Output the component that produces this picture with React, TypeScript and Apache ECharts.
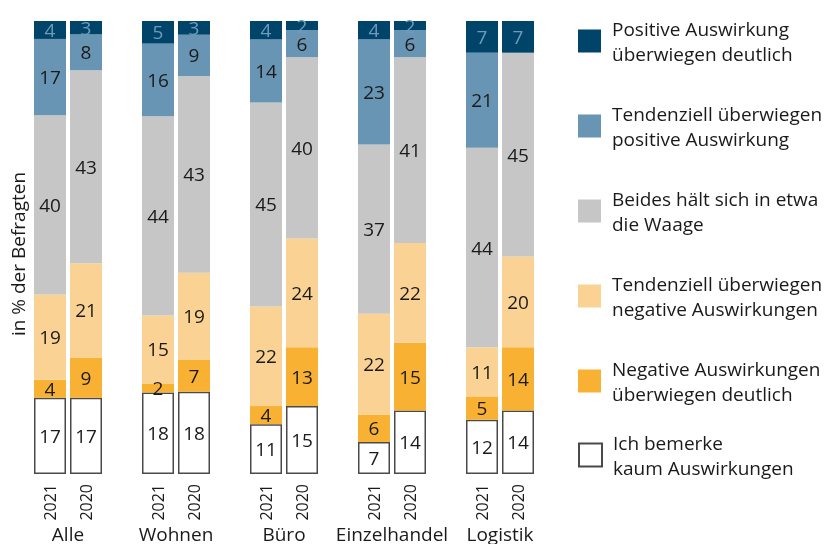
import React, { useEffect, useRef } from "react";
import * as echarts from "echarts";

const groups = ["Alle", "Wohnen", "Büro", "Einzelhandel", "Logistik"];
const years = ["2021", "2020"];

// order per bar: Alle 2021, Alle 2020, Wohnen 2021, Wohnen 2020, Büro 2021, Büro 2020, Einzelhandel 2021, Einzelhandel 2020, Logistik 2021, Logistik 2020
const kaum = [17, 17, 18, 18, 11, 15, 7, 14, 12, 14];
const negDeutlich = [4, 9, 2, 7, 4, 13, 6, 15, 5, 14];
const tendNeg = [19, 21, 15, 19, 22, 24, 22, 22, 11, 20];
const beides = [40, 43, 44, 43, 45, 40, 37, 41, 44, 45];
const tendPos = [17, 8, 16, 9, 14, 6, 23, 6, 21, null];
const posDeutlich = [4, 3, 5, 3, 4, 2, 4, 2, 7, 7];

const seriesNames = [
  "Ich bemerke\nkaum Auswirkungen",
  "Negative Auswirkungen\nüberwiegen deutlich",
  "Tendenziell überwiegen\nnegative Auswirkungen",
  "Beides hält sich in etwa\ndie Waage",
  "Tendenziell überwiegen\npositive Auswirkung",
  "Positive Auswirkung\nüberwiegen deutlich",
];
const seriesColors = ["#ffffff", "#f8b133", "#fad394", "#c6c6c6", "#6895b4", "#00446a"];
const labelColors = ["#1a1a1a", "#1a1a1a", "#1a1a1a", "#1a1a1a", "#1a1a1a", "#6f9bbb"];
const seriesValues = [kaum, negDeutlich, tendNeg, beides, tendPos, posDeutlich];

export default function App() {
  const ref = useRef<HTMLDivElement>(null);
  useEffect(() => {
    if (!ref.current) return;
    const chart = echarts.init(ref.current, null, { renderer: "svg" });
    const font = "Open Sans";

    // category slots: two bars per group, one empty slot between groups
    const slots: (number | null)[] = [];
    const cats: string[] = [];
    groups.forEach((g, gi) => {
      years.forEach((y, yi) => {
        slots.push(gi * 2 + yi);
        cats.push(y);
      });
      if (gi < groups.length - 1) {
        slots.push(null);
        cats.push("");
      }
    });
    const groupCats: string[] = [];
    for (let k = 0; k <= cats.length; k++) groupCats.push("");
    groups.forEach((g, gi) => {
      groupCats[gi * 3 + 1] = g;
    });

    const totals = kaum.map((_, i) =>
      seriesValues.reduce((s, arr) => s + (arr[i] == null ? 0 : (arr[i] as number)), 0)
    );

    const series = seriesValues.map((arr, si) => ({
      name: seriesNames[si],
      type: "bar",
      stack: "all",
      barWidth: 32,
      xAxisIndex: 0,
      itemStyle:
        si === 0
          ? { color: seriesColors[si], borderColor: "#4a4a4a", borderWidth: 1.5 }
          : { color: seriesColors[si] },
      label: {
        show: true,
        position: "inside",
        color: labelColors[si],
        fontFamily: font,
        fontSize: 19,
        formatter: (p: any) => {
          const idx = slots[p.dataIndex];
          if (idx == null) return "";
          const v = arr[idx];
          return v == null ? "" : String(v);
        },
      },
      data: slots.map((idx) => {
        if (idx == null) return "-";
        const v = arr[idx];
        if (v == null) return "-";
        return (v / totals[idx]) * 100;
      }),
    }));

    const legendText = { fontFamily: font, fontSize: 19, color: "#1a1a1a", lineHeight: 25, padding: [0, 0, 0, 6] };

    chart.setOption({
      animation: false,
      textStyle: { fontFamily: font },
      grid: { left: 32, width: 504, top: 21, bottom: 70, containLabel: false },
      legend: [
        {
          orient: "vertical",
          left: 578,
          top: 16,
          padding: 0,
          itemWidth: 23,
          itemHeight: 23,
          itemGap: 35,
          icon: "rect",
          selectedMode: false,
          textStyle: legendText,
          data: [seriesNames[5], seriesNames[4], seriesNames[3], seriesNames[2], seriesNames[1]],
        },
        {
          orient: "vertical",
          left: 578,
          top: 430,
          padding: 0,
          itemWidth: 23,
          itemHeight: 23,
          icon: "rect",
          selectedMode: false,
          textStyle: legendText,
          data: [seriesNames[0]],
        },
      ],
      xAxis: [
        {
          type: "category",
          data: cats,
          position: "bottom",
          axisLine: { show: false },
          axisTick: { show: false },
          axisLabel: {
            interval: 0,
            rotate: 90,
            margin: 10,
            fontSize: 16,
            fontFamily: font,
            color: "#1a1a1a",
          },
        },
        {
          type: "category",
          data: groupCats,
          boundaryGap: false,
          position: "bottom",
          axisLine: { show: false },
          axisTick: { show: false },
          axisLabel: {
            interval: 0,
            margin: 50,
            fontSize: 19,
            lineHeight: 19,
            fontFamily: font,
            color: "#1a1a1a",
          },
        },
      ],
      yAxis: {
        type: "value",
        min: 0,
        max: 100,
        axisLine: { show: false },
        axisTick: { show: false },
        axisLabel: { show: false },
        splitLine: { show: false },
        name: "in % der Befragten",
        nameLocation: "middle",
        nameGap: 5,
        nameTextStyle: { fontFamily: font, fontSize: 19, color: "#1a1a1a", padding: [0, 13, 0, 0] },
      },
      series,
    });
    return () => chart.dispose();
  }, []);
  return (
    <div
      ref={ref}
      style={{ position: "fixed", left: 0, top: 0, width: 828, height: 544 }}
    />
  );
}
